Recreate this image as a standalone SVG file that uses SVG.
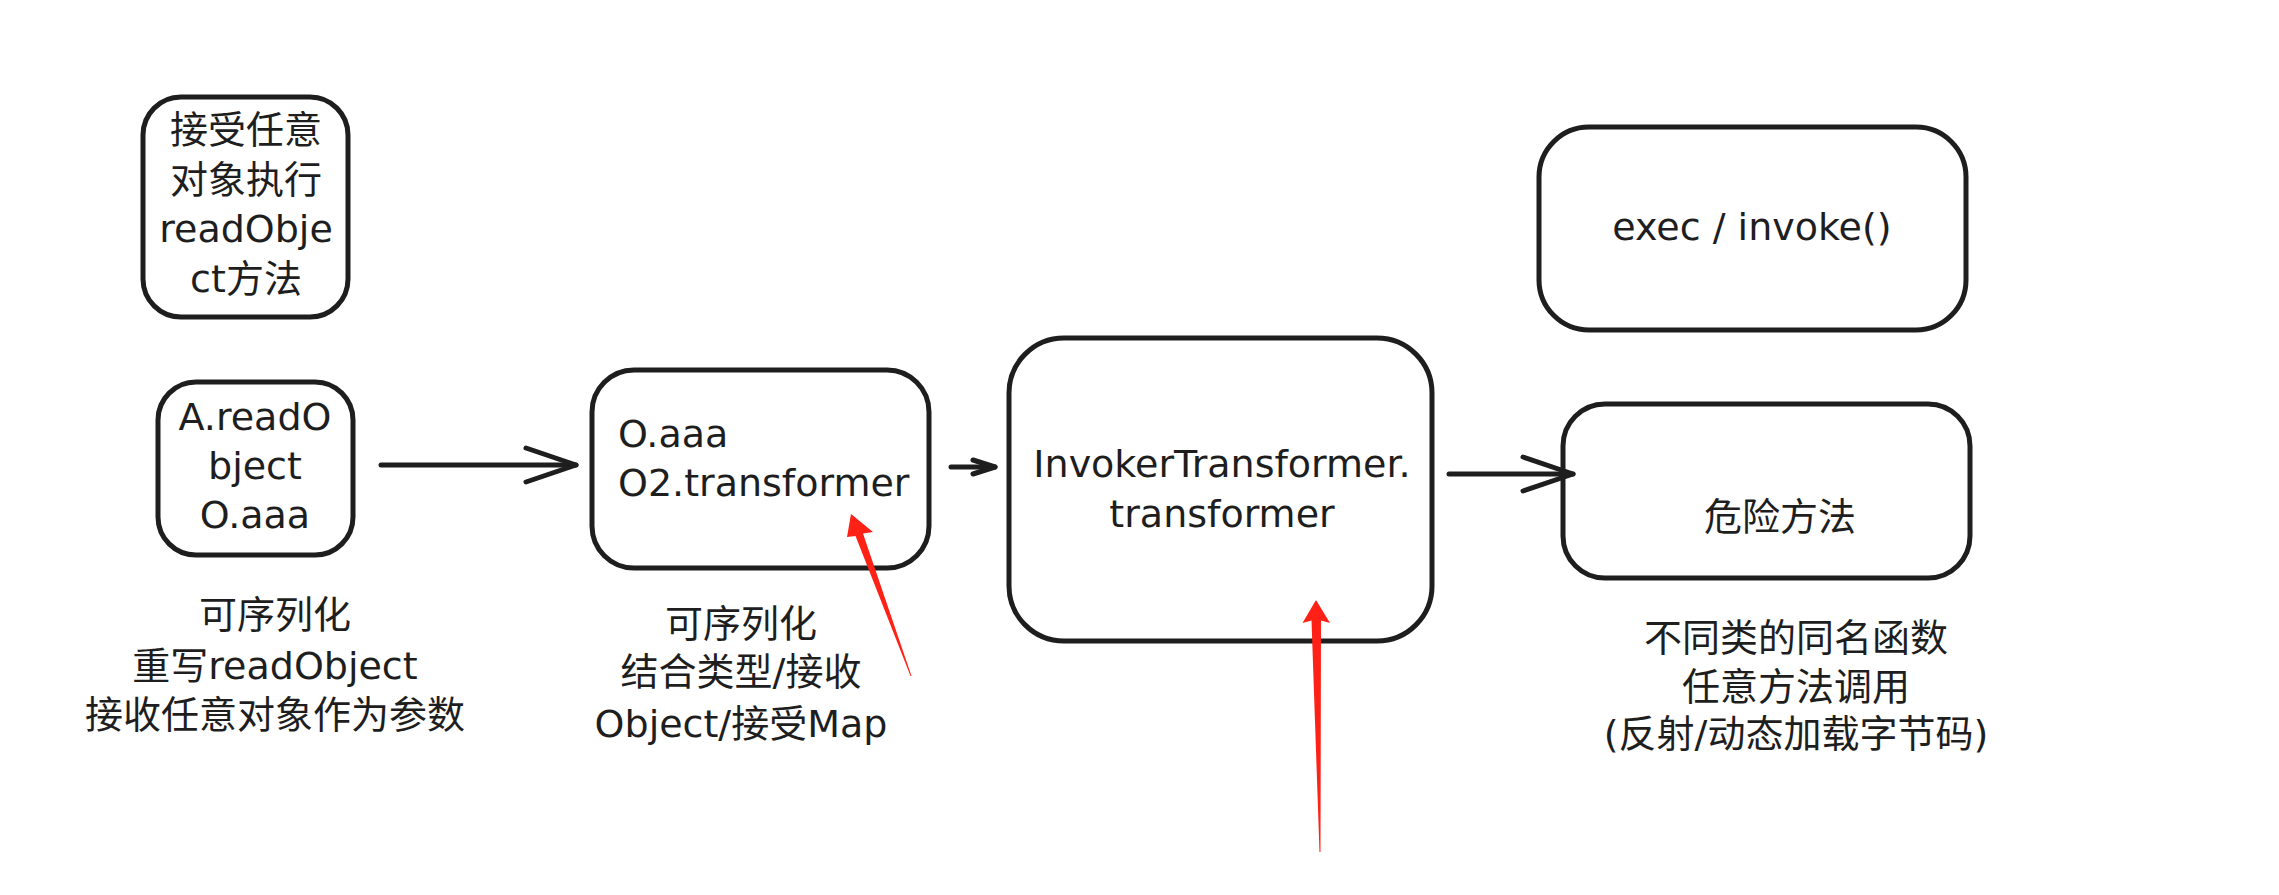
<svg xmlns="http://www.w3.org/2000/svg" width="2279" height="895" viewBox="0 0 2279 895">
  <defs>
    <style>
      .box { fill: #ffffff; stroke: #1e1e1e; stroke-width: 5; stroke-linejoin: round; }
      .t { font-family: "DejaVu Sans", "Noto Sans CJK SC", sans-serif; font-size: 38px; fill: #1e1e1e; }
      .c { text-anchor: middle; }
      .conn { fill: none; stroke: #1e1e1e; stroke-width: 5; stroke-linecap: round; stroke-linejoin: round; }
      .red { fill: #ff2116; stroke: none; }
    </style>
    <marker id="headLg" markerUnits="userSpaceOnUse" markerWidth="60" markerHeight="50" viewBox="-55 -25 60 50" refX="0" refY="0" orient="auto" overflow="visible">
      <path d="M -50 -17 L 0 0 L -50 17" fill="none" stroke="#1e1e1e" stroke-width="5" stroke-linecap="round" stroke-linejoin="round"/>
    </marker>
    <marker id="headSm" markerUnits="userSpaceOnUse" markerWidth="30" markerHeight="24" viewBox="-27 -12 30 24" refX="0" refY="0" orient="auto" overflow="visible">
      <path d="M -22 -7 L 0 0 L -22 7" fill="none" stroke="#1e1e1e" stroke-width="5" stroke-linecap="round" stroke-linejoin="round"/>
    </marker>
  </defs>

  <rect width="2279" height="895" fill="#ffffff"/>

  <g id="node-accept-any">
    <rect class="box" x="143" y="97" width="205" height="220" rx="38" ry="38"/>
    <text class="t c" x="246" y="143">接受任意</text>
    <text class="t c" x="246" y="192.5">对象执行</text>
    <text class="t c" x="246" y="242">readObje</text>
    <text class="t c" x="246" y="291.5">ct方法</text>
  </g>

  <g id="node-a-readobject">
    <rect class="box" x="158" y="382" width="195" height="173" rx="38" ry="38"/>
    <text class="t c" x="255" y="430">A.readO</text>
    <text class="t c" x="255" y="479">bject</text>
    <text class="t c" x="255" y="528">O.aaa</text>
  </g>

  <g id="label-serializable-1">
    <text class="t c" x="275" y="628">可序列化</text>
    <text class="t c" x="275" y="679">重写readObject</text>
    <text class="t c" x="275" y="728">接收任意对象作为参数</text>
  </g>

  <g id="node-o-aaa">
    <rect class="box" x="592" y="370" width="337" height="198" rx="42" ry="42"/>
    <text class="t" x="618" y="447">O.aaa</text>
    <text class="t" x="618" y="496">O2.transformer</text>
  </g>

  <g id="label-serializable-2">
    <text class="t c" x="741" y="637">可序列化</text>
    <text class="t c" x="741" y="685">结合类型/接收</text>
    <text class="t c" x="741" y="737">Object/接受Map</text>
  </g>

  <g id="node-invoker-transformer">
    <rect class="box" x="1009" y="338" width="423" height="303" rx="55" ry="55"/>
    <text class="t c" x="1222" y="477">InvokerTransformer.</text>
    <text class="t c" x="1222" y="527">transformer</text>
  </g>

  <g id="node-exec-invoke">
    <rect class="box" x="1539" y="127" width="427" height="203" rx="50" ry="50"/>
    <text class="t c" x="1752" y="240">exec / invoke()</text>
  </g>

  <g id="node-dangerous-method">
    <rect class="box" x="1563" y="404" width="407" height="174" rx="42" ry="42"/>
    <text class="t c" x="1780" y="530">危险方法</text>
  </g>

  <g id="label-any-method">
    <text class="t c" x="1796" y="651">不同类的同名函数</text>
    <text class="t c" x="1796" y="700">任意方法调用</text>
    <text class="t c" x="1796" y="747">(反射/动态加载字节码)</text>
  </g>

  <g id="connectors">
    <path class="conn" d="M 381 465 L 576 465" marker-end="url(#headLg)"/>
    <path class="conn" d="M 951 467 L 995 467" marker-end="url(#headSm)"/>
    <path class="conn" d="M 1449 474 L 1573 474" marker-end="url(#headLg)"/>
    <path class="red" d="M 851 514 L 873 532 L 863 533.5 L 911.5 676 L 910.5 676 L 855.5 536 L 847 537 Z"/>
    <path class="red" d="M 1316 600 L 1330 623 L 1321 620.5 L 1320.5 852 L 1319.5 852 L 1311.5 620.5 L 1302.5 623 Z"/>
  </g>
</svg>
